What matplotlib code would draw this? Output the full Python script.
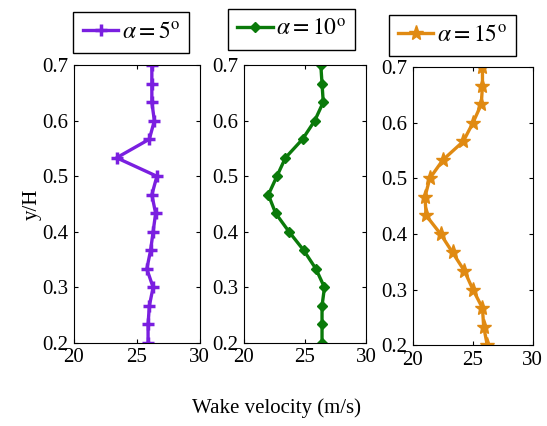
import matplotlib.pyplot as plt
import numpy as np

plt.rcParams['font.family'] = 'Liberation Serif'
plt.rcParams['mathtext.fontset'] = 'stix'

yh = [0.2, 0.2333, 0.2667, 0.3, 0.3333, 0.3667, 0.4, 0.4333,
      0.4667, 0.5, 0.5333, 0.5667, 0.6, 0.6333, 0.6667, 0.7]
v5 = [25.9, 25.9, 26.0, 26.3, 25.8, 26.1, 26.3, 26.5,
      26.2, 26.6, 23.4, 26.0, 26.4, 26.2, 26.2, 26.2]
v10 = [26.4, 26.4, 26.4, 26.6, 25.9, 24.9, 23.7, 22.6,
       22.0, 22.7, 23.4, 24.8, 25.8, 26.5, 26.4, 26.3]
v15 = [26.2, 25.9, 25.8, 25.0, 24.3, 23.3, 22.3, 21.1,
       21.0, 21.4, 22.5, 24.2, 25.0, 25.7, 25.8, 25.8]
labels = [r'$\alpha = 5^{\rm o}$', r'$\alpha = 10^{\rm o}$', r'$\alpha = 15^{\rm o}$']
colors = ['#7a1fe0', '#0a7a0a', '#e08a12']

fig = plt.figure(figsize=(5.47, 4.26), dpi=100)
pos = [[0.135, 0.195, 0.230, 0.652],
       [0.446, 0.195, 0.223, 0.652],
       [0.755, 0.190, 0.219, 0.652]]
leg_pos = [(0.240, 0.876), (0.533, 0.883), (0.827, 0.869)]
series = [v5, v10, v15]
styles = [dict(marker='+', ms=9, mew=2.5),
          dict(marker='D', ms=5.5, mew=1),
          dict(marker='*', ms=11, mew=1)]

for i in range(3):
    ax = fig.add_axes(pos[i])
    line, = ax.plot(series[i], yh, color=colors[i], lw=2.4, label=labels[i], **styles[i])
    ax.set_xlim(20, 30)
    ax.set_ylim(0.2, 0.7)
    ax.set_xticks([20, 25, 30])
    ax.set_yticks(np.arange(0.2, 0.71, 0.1))
    ax.set_yticklabels(['0.2', '0.3', '0.4', '0.5', '0.6', '0.7'])
    ax.tick_params(direction='in', top=True, right=True, labelsize=15, length=3)
    ax.tick_params(axis='x', pad=4)
    ax.tick_params(axis='y', pad=4)
    fig.legend(handles=[line], loc='lower center', bbox_to_anchor=leg_pos[i],
               fontsize=17, fancybox=False, edgecolor='black', framealpha=1,
               handlelength=1.5, handletextpad=0.15, borderpad=0.4,
               borderaxespad=0)
    if i == 0:
        ax.set_ylabel('y/H', fontsize=15, labelpad=0)

fig.text(0.505, 0.03, 'Wake velocity (m/s)', ha='center', fontsize=15)
fig.savefig('out.png', dpi=100)
